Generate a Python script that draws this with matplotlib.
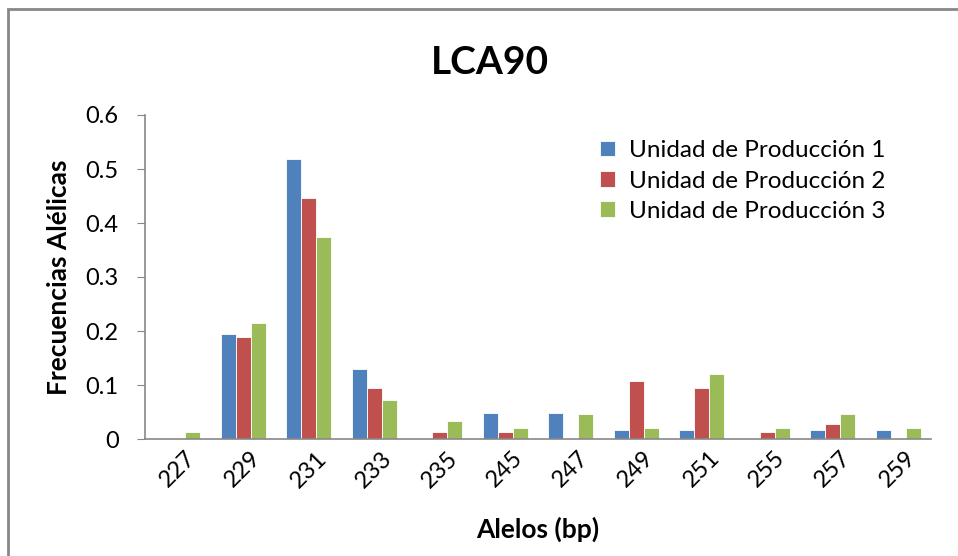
import matplotlib.pyplot as plt
import numpy as np
from matplotlib.patches import Rectangle

plt.rcParams['font.family'] = ['Lato', 'DejaVu Sans']

alelos = ['227', '229', '231', '233', '235', '245', '247', '249', '251', '255', '257', '259']
unidad_1 = [0, 0.194, 0.518, 0.129, 0, 0.048, 0.048, 0.016, 0.016, 0, 0.016, 0.016]
unidad_2 = [0, 0.189, 0.447, 0.094, 0.013, 0.013, 0, 0.107, 0.094, 0.013, 0.028, 0]
unidad_3 = [0.013, 0.214, 0.375, 0.073, 0.034, 0.021, 0.047, 0.021, 0.121, 0.021, 0.047, 0.021]
series_names = ['Unidad de Producción 1', 'Unidad de Producción 2', 'Unidad de Producción 3']
colors = ['#4F81BD', '#C0504D', '#9BBB59']

fig = plt.figure(figsize=(9.58, 5.56), dpi=100)
# outer chart border (only top and left are visible in the original crop)
fig.patches.append(Rectangle((8 / 958, -0.1), 1.2, 1.1 - 9 / 556,
                             transform=fig.transFigure, fill=False,
                             edgecolor='#888888', linewidth=2))

ax = fig.add_axes([145 / 958, 1 - 439 / 556, (931 - 145) / 958, (439 - 115) / 556])

x = np.arange(len(alelos))
w = 0.229
for i, (vals, name, c) in enumerate(zip([unidad_1, unidad_2, unidad_3], series_names, colors)):
    ax.bar(x + (i - 1) * w, vals, width=w, color=c, edgecolor='white', linewidth=0.6, label=name)

ax.set_xlim(-0.5, len(alelos) - 0.5)
ax.set_ylim(0, 0.6)
ax.set_yticks(np.arange(0, 0.61, 0.1))
ax.set_yticklabels(['0', '0.1', '0.2', '0.3', '0.4', '0.5', '0.6'], fontsize=17)
ax.set_xticks(x)
ax.set_xticklabels(alelos, rotation=45, fontsize=17, ha='center', va='top')
ax.tick_params(axis='x', length=0, pad=6)
ax.tick_params(axis='y', length=6, color='#888888', pad=13)

for s in ['top', 'right']:
    ax.spines[s].set_visible(False)
for s in ['left', 'bottom']:
    ax.spines[s].set_color('#888888')
    ax.spines[s].set_linewidth(1.2)

ax.set_xlabel('Alelos (bp)', fontsize=19, fontweight='bold', labelpad=18)
ax.set_ylabel('Frecuencias Alélicas', fontsize=19, fontweight='bold', labelpad=10)
fig.text(490 / 958, 1 - 62 / 556, 'LCA90', fontsize=28, fontweight='bold', ha='center', va='center')

ax.legend(loc='upper left', bbox_to_anchor=(0.579, 0.922), borderaxespad=0, borderpad=0,
          frameon=False, fontsize=17.5,
          handlelength=0.6, handleheight=0.6, handletextpad=0.6, labelspacing=0.38)

fig.savefig('out.png', dpi=100)
